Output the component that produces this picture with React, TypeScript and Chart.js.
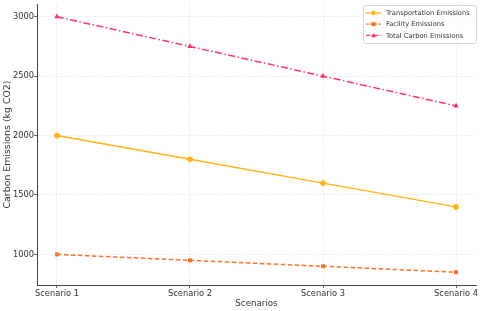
import React, { useEffect, useRef } from "react";
import { Chart, registerables } from "chart.js";

Chart.register(...registerables);

const scenarios = ["Scenario 1", "Scenario 2", "Scenario 3", "Scenario 4"];
const transportation = [2000, 1800, 1600, 1400];
const facility = [1000, 950, 900, 850];
const totalCarbon = [3000, 2750, 2500, 2250];
const yTicks = [1000, 1500, 2000, 2500, 3000];

const FONT = "'DejaVu Sans', sans-serif";

const seriesDefs = [
  { label: "Transportation Emissions", data: transportation, color: "#FFB214", dash: [] as number[], point: "circle" },
  { label: "Facility Emissions", data: facility, color: "#FF7028", dash: [4.5, 2.5], point: "rect" },
  { label: "Total Carbon Emissions", data: totalCarbon, color: "#FF3366", dash: [7, 2.5, 1.5, 2.5], point: "triangle" },
];

const legendPlugin = {
  id: "mplLegend",
  afterDraw(chart: any) {
    const ctx = chart.ctx;
    const x0 = 363, y0 = 5, w = 113, h = 38;
    ctx.save();
    ctx.fillStyle = "rgba(255,255,255,0.85)";
    ctx.strokeStyle = "#d8d8d8";
    ctx.lineWidth = 1;
    ctx.beginPath();
    (ctx as any).roundRect(x0 + 0.5, y0 + 0.5, w, h, 2);
    ctx.fill();
    ctx.stroke();
    ctx.font = `6.7px ${FONT}`;
    ctx.textBaseline = "middle";
    seriesDefs.forEach((s, i) => {
      const y = 13 + i * 11.2;
      ctx.strokeStyle = s.color;
      ctx.lineWidth = 1.3;
      ctx.setLineDash(s.dash.length ? s.dash.map((d) => d * 0.6) : []);
      ctx.beginPath();
      ctx.moveTo(366, y);
      ctx.lineTo(381, y);
      ctx.stroke();
      ctx.setLineDash([]);
      ctx.fillStyle = s.color;
      const cx = 373.5;
      if (s.point === "circle") {
        ctx.beginPath();
        ctx.arc(cx, y, 2.2, 0, Math.PI * 2);
        ctx.fill();
      } else if (s.point === "rect") {
        ctx.fillRect(cx - 2, y - 2, 4, 4);
      } else {
        ctx.beginPath();
        ctx.moveTo(cx, y - 2.4);
        ctx.lineTo(cx + 2.4, y + 1.8);
        ctx.lineTo(cx - 2.4, y + 1.8);
        ctx.closePath();
        ctx.fill();
      }
      ctx.fillStyle = "#333";
      ctx.fillText(s.label, 386, y + 0.5);
    });
    ctx.restore();
  },
};

export default function App() {
  const ref = useRef<HTMLCanvasElement | null>(null);
  useEffect(() => {
    if (!ref.current) return;
    const chart = new Chart(ref.current, {
      type: "line",
      data: {
        datasets: seriesDefs.map((s) => ({
          label: s.label,
          data: s.data.map((v, i) => ({ x: i, y: v })),
          borderColor: s.color,
          backgroundColor: s.color,
          borderWidth: 1.5,
          borderDash: s.dash,
          pointStyle: s.point as any,
          pointRadius: s.point === "triangle" ? 3.2 : 2.8,
          pointBorderWidth: 0,
          fill: false,
          tension: 0,
        })),
      },
      plugins: [legendPlugin],
      options: {
        animation: false,
        responsive: false,
        layout: { padding: { top: 3, right: 2, left: 0, bottom: 0 } },
        plugins: { legend: { display: false }, tooltip: { enabled: false } },
        scales: {
          x: {
            type: "linear",
            min: -0.15,
            max: 3.15,
            afterBuildTicks: (scale: any) => {
              scale.ticks = scenarios.map((_, i) => ({ value: i }));
            },
            afterFit: (scale: any) => {
              scale.height = 26;
              scale.paddingLeft = 0;
              scale.paddingRight = 0;
            },
            ticks: {
              callback: (v: any) => scenarios[v as number] ?? "",
              font: { family: FONT, size: 8.3 },
              color: "#333",
              padding: 1,
              maxRotation: 0,
              autoSkip: false,
            },
            grid: { color: "#e2e2e2", lineWidth: 0.8, tickLength: 3, tickColor: "#444", drawTicks: true },
            border: { display: true, color: "#444", width: 1, dash: [1.5, 1.5] },
            title: {
              display: true,
              text: "Scenarios",
              font: { family: FONT, size: 8.7 },
              color: "#333",
              padding: { top: 0, bottom: 2 },
            },
          },
          y: {
            type: "linear",
            min: 742.5,
            max: 3107.5,
            afterBuildTicks: (scale: any) => {
              scale.ticks = yTicks.map((v) => ({ value: v }));
            },
            afterFit: (scale: any) => {
              scale.width = 37;
              scale.paddingTop = 0;
              scale.paddingBottom = 0;
            },
            ticks: {
              font: { family: FONT, size: 8.3 },
              color: "#333",
              padding: 0,
              callback: (v: any) => String(v),
            },
            grid: { color: "#e2e2e2", lineWidth: 0.8, tickLength: 3, tickColor: "#444" },
            border: { display: true, color: "#444", width: 1, dash: [1.5, 1.5] },
            title: {
              display: true,
              text: "Carbon Emissions (kg CO2)",
              font: { family: FONT, size: 9.4 },
              color: "#333",
              padding: { top: 2, bottom: 0 },
            },
          },
        },
      },
    });
    return () => chart.destroy();
  }, []);
  return (
    <div style={{ position: "fixed", left: 0, top: 0, width: 480, height: 311, background: "#fff" }}>
      <canvas ref={ref} width={480} height={311} style={{ width: 480, height: 311 }} />
    </div>
  );
}
